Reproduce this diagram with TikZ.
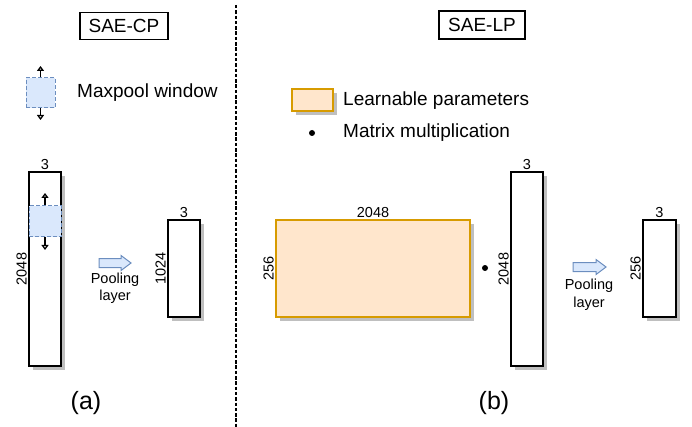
\documentclass[tikz,border=0pt]{standalone}
\usepackage{fontspec}
\setmainfont{Liberation Sans}
\usetikzlibrary{arrows.meta,shadows}
\definecolor{winfill}{HTML}{DAE8FC}
\definecolor{windraw}{HTML}{6C8EBF}
\definecolor{lpfill}{HTML}{FFE6CC}
\definecolor{lpdraw}{HTML}{D79B00}
\tikzset{
  mat/.style={draw=black, fill=white, line width=1.2pt, inner sep=0pt,
    general shadow={fill=black!25, shadow xshift=4pt, shadow yshift=-4pt}},
  learn/.style={draw=lpdraw, fill=lpfill, line width=1.2pt, inner sep=0pt,
    general shadow={fill=black!25, shadow xshift=4pt, shadow yshift=-4pt}},
  win/.style={draw=windraw, fill=winfill, dashed, dash pattern=on 4pt off 2pt, line width=1pt, inner sep=0pt},
  winarrow/.style={draw=black, line width=1.3pt, -{Triangle[open,length=5pt,width=7pt]}},
  title/.style={draw=black, line width=1.2pt, inner sep=0pt, font=\fontsize{19}{22}\selectfont},
  legtext/.style={anchor=west, inner sep=0pt, font=\fontsize{19}{22}\selectfont},
  dimtext/.style={inner sep=1.5pt, font=\fontsize{14.5}{16}\selectfont},
  pooltext/.style={align=center, inner sep=0pt, font=\fontsize{14.5}{17.5}\selectfont},
  blockarrow/.style={draw=windraw, fill=winfill, line width=1pt, line join=miter},
  sublabel/.style={inner sep=0pt, font=\fontsize{25}{28}\selectfont},
  dotmark/.style={circle, fill=black, inner sep=0pt, minimum size=6pt}
}
\begin{document}
\begin{tikzpicture}[x=1pt,y=-1pt]
\useasboundingbox (0,0) rectangle (692,427);
% divider
\draw[line width=2pt, dash pattern=on 3.5pt off 1.8pt] (236,5) coordinate (d1) -- (236,427) coordinate (d2);
% titles
\node[title, minimum width=88pt, minimum height=27pt] (tcp) at (124,26) {SAE-CP};
\node[title, minimum width=86pt, minimum height=28pt] (tlp) at (482,25) {SAE-LP};
% maxpool legend
\node[win, minimum width=29pt, minimum height=30pt] (lw) at (40.5,93) {};
\coordinate (lwu) at (40.5,66);
\coordinate (lwd) at (40.5,120);
\draw[winarrow] (lw.north) -- (lwu);
\draw[winarrow] (lw.south) -- (lwd);
\node[legtext] (lwt) at (77,93) {Maxpool window};
% SAE-CP
\node[mat, minimum width=32pt, minimum height=194pt] (A) at (45,269) {};
\node[dimtext, above] (A3) at (A.north) {3};
\node[dimtext, rotate=90, anchor=south] (A2048) at (A.west) {2048};
\node[win, minimum width=32pt, minimum height=31pt] (W) at (45,221.5) {};
\coordinate (Wu) at (45,193);
\coordinate (Wd) at (45,250);
\draw[winarrow] (W.north) -- (Wu);
\draw[winarrow] (W.south) -- (Wd);
\draw[blockarrow] (99,258.5) -- (121,258.5) -- (121,255.5) -- (131,263) -- (121,270.5) -- (121,267.5) -- (99,267.5) -- cycle;
\node[pooltext] (P1) at (115,288.5) {Pooling\\layer};
\node[mat, minimum width=32pt, minimum height=97pt] (B) at (184,268.5) {};
\node[dimtext, above] (B3) at (B.north) {3};
\node[dimtext, rotate=90, anchor=south] (B1024) at (B.west) {1024};
\node[sublabel] (la) at (86,403) {(a)};
% SAE-LP legend
\node[learn, minimum width=41pt, minimum height=22pt] (ll) at (312.5,100) {};
\node[legtext] (llt) at (343,101) {Learnable parameters};
\node[dotmark] (ld) at (312,133) {};
\node[legtext] (ldt) at (343,133) {Matrix multiplication};
% SAE-LP
\node[learn, minimum width=194pt, minimum height=97pt] (C) at (373,268.5) {};
\node[dimtext, above] (C2048) at (C.north) {2048};
\node[dimtext, rotate=90, anchor=south] (C256) at (C.west) {256};
\node[dotmark] (dot) at (485,268) {};
\node[mat, minimum width=32pt, minimum height=194pt] (D) at (527,269) {};
\node[dimtext, above] (D3) at (D.north) {3};
\node[dimtext, rotate=90, anchor=south] (D2048) at (D.west) {2048};
\draw[blockarrow] (573,262.5) -- (596,262.5) -- (596,259.5) -- (606,267) -- (596,274.5) -- (596,271.5) -- (573,271.5) -- cycle;
\node[pooltext] (P2) at (589,294.5) {Pooling\\layer};
\node[mat, minimum width=33pt, minimum height=97pt] (E) at (659.5,268.5) {};
\node[dimtext, above] (E3) at (E.north) {3};
\node[dimtext, rotate=90, anchor=south] (E256) at (E.west) {256};
\node[sublabel] (lb) at (494,403) {(b)};
\end{tikzpicture}
\end{document}
